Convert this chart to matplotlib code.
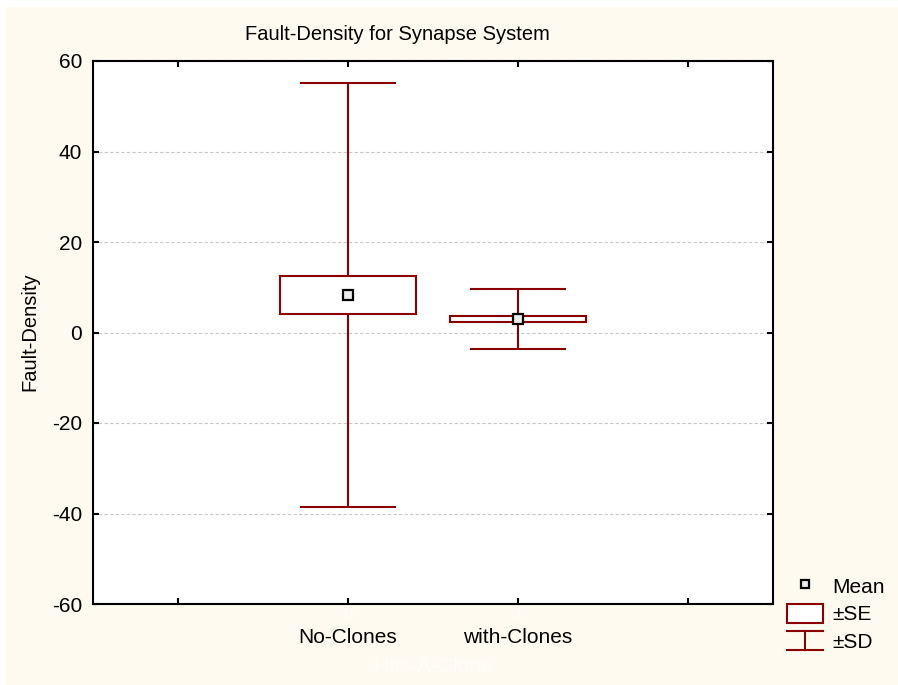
import matplotlib
matplotlib.use("Agg")
import matplotlib.pyplot as plt
from matplotlib.patches import Rectangle, Patch
from matplotlib.lines import Line2D
from matplotlib.legend_handler import HandlerBase

plt.rcParams['font.family'] = ['Liberation Sans', 'DejaVu Sans']
plt.rcParams['axes.unicode_minus'] = False

categories = ['No-Clones', 'with-Clones']
codes = ['0', '1']
means = [8.3, 3.0]
se = [4.2, 0.65]
sd = [46.85, 6.6]

title = 'Fault-Density for Synapse System'
ylabel = 'Fault-Density'
xlabel = 'Has-A-Clone'
yticks = [-60, -40, -20, 0, 20, 40, 60]

RED = '#8b0000'
CREAM = '#fffaf0'

W, H = 898, 685
fig = plt.figure(figsize=(W / 100, H / 100), dpi=100, facecolor='white')
fig.patches.append(Rectangle((5 / W, -0.01), 1.02, 1.01 - 7 / H, transform=fig.transFigure,
                             facecolor=CREAM, edgecolor='none', zorder=-10))

ax = fig.add_axes([93 / W, 1 - 604 / H, (773 - 93) / W, (604 - 61) / H])
ax.set_facecolor('white')

x = list(range(len(categories)))
ax.errorbar(x, means, yerr=sd, fmt='none', ecolor=RED, elinewidth=1.5,
            capsize=34.5, capthick=1.5, zorder=2)
ax.bar(x, [2 * s for s in se], bottom=[m - s for m, s in zip(means, se)], width=0.8,
       facecolor='white', edgecolor=RED, linewidth=1.5, zorder=3)
ax.plot(x, means, linestyle='none', marker='s', markersize=7, markerfacecolor='#ececec',
        markeredgecolor='black', markeredgewidth=1.6, zorder=4)

ax.set_xlim(-1.5, 2.5)
ax.set_ylim(-60, 60)
ax.set_yticks(yticks)
ax.set_xticks([-1, 0, 1, 2])
ax.set_xticklabels([''] + categories + [''])
for s in ax.spines.values():
    s.set_linewidth(1.5)
    s.set_color('black')
ax.tick_params(direction='in', length=4, width=1.5, top=True, right=True,
               labelsize=15, colors='black')
ax.tick_params(axis='x', pad=17)
ax.tick_params(axis='y', pad=8)
ax.yaxis.grid(True, linestyle=(0, (3, 2)), color='#c8c8c8', linewidth=0.8)
ax.set_axisbelow(True)

# faint labels (nearly invisible in the reference)
for xi, c in zip(x, codes):
    ax.annotate(c, xy=(xi, 0), xycoords=('data', 'axes fraction'), xytext=(0, -7),
                textcoords='offset points', ha='center', va='center', fontsize=12,
                color='#fffdf8')
ax.annotate(xlabel, xy=(0.5, 0), xycoords='axes fraction', xytext=(0, -45),
            textcoords='offset points', ha='center', va='center', fontsize=15,
            color='#fffdf8')

fig.text(30 / W, 1 - 332 / H, ylabel, rotation=90, ha='center', va='center', fontsize=14.5)
fig.text(397 / W, 1 - 34 / H, title, ha='center', va='center', fontsize=14.5)


class SDHandler(HandlerBase):
    def create_artists(self, legend, orig_handle, xdescent, ydescent, width, height,
                       fontsize, trans):
        x0, x1 = -xdescent, width - xdescent
        y0, y1 = -ydescent, height - ydescent
        cx = (x0 + x1) / 2
        arts = [Line2D([x0, x1], [y1, y1]), Line2D([x0, x1], [y0, y0]),
                Line2D([cx, cx], [y0, y1])]
        for a in arts:
            a.set_color(RED)
            a.set_linewidth(1.5)
            a.set_transform(trans)
        return arts


class SDKey:
    pass


h_mean = Line2D([], [], linestyle='none', marker='s', markersize=6, markerfacecolor='#ececec',
                markeredgecolor='black', markeredgewidth=1.6)
h_se = Patch(facecolor='white', edgecolor=RED, linewidth=1.5)
h_sd = SDKey()
fig.legend([h_mean, h_se, h_sd], ['Mean', '\u00b1SE', '\u00b1SD'],
           handler_map={SDKey: SDHandler()}, loc='upper left',
           bbox_to_anchor=(787 / W, 1 - 576 / H), frameon=False, borderpad=0,
           borderaxespad=0, handlelength=1.73, handleheight=1.06, labelspacing=0.32,
           handletextpad=0.45, fontsize=15)

fig.savefig('out.png', dpi=100, facecolor=fig.get_facecolor())
